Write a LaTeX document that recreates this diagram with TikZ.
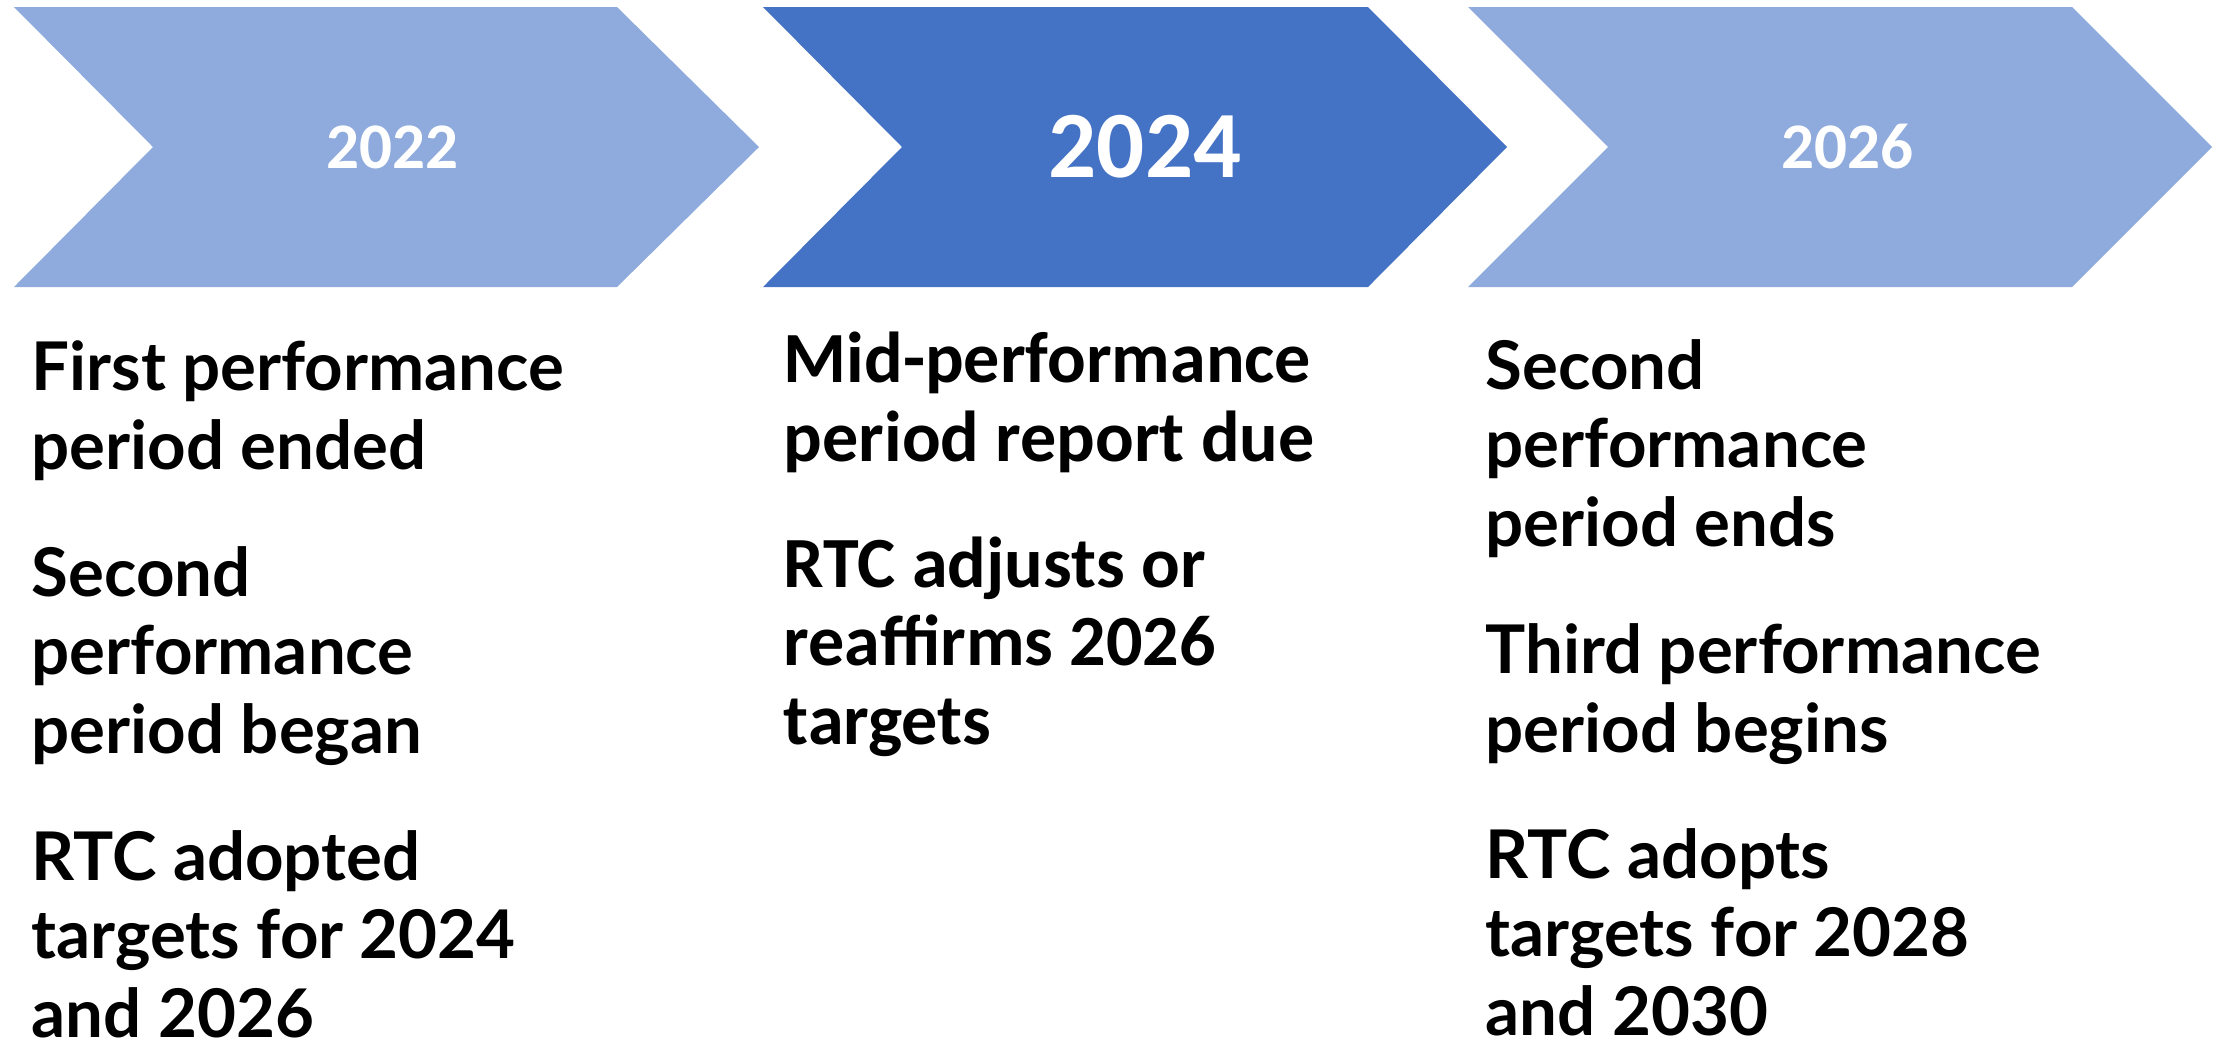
\documentclass[tikz,border=0pt]{standalone}
\usepackage{fontspec}
\setmainfont{Lato}
\newfontfamily\calfont{Carlito}
\usepackage{xcolor}
\definecolor{chevlight}{HTML}{8FAADC}
\definecolor{chevdark}{HTML}{4472C4}
\usetikzlibrary{positioning}

\begin{document}
\begin{tikzpicture}[x=0.01cm,y=-0.01cm,
  yearlbl/.style={text=white,font=\calfont\bfseries\fontsize{18.5pt}{20pt}\selectfont},
  item/.style={anchor=base west,align=left,inner sep=0pt,font=\bfseries\fontsize{19.1pt}{22.2pt}\selectfont},
  itemc/.style={item,font=\calfont\bfseries\fontsize{20.5pt}{22.2pt}\selectfont}]
\useasboundingbox (0,0) rectangle (2224,1050);
% chevrons
\fill[chevlight] (14,7)--(617,7)--(759,147)--(617,287)--(14,287)--(153,147)--cycle;
\fill[chevdark] (763,7)--(1368,7)--(1507,147)--(1368,287)--(763,287)--(902,147)--cycle;
\fill[chevlight] (1468,7)--(2072,7)--(2212,147)--(2072,287)--(1468,287)--(1608,147)--cycle;
\node[yearlbl] (y22) at (392,147) {2022};
\node[yearlbl,font=\calfont\bfseries\fontsize{27pt}{30pt}\selectfont] (y24) at (1145,147) {2024};
\node[yearlbl] (y26) at (1847,147) {2026};
% 2022 (anchored at last baseline)
\node[item] (a1) at (31,469) {First performance\\period ended};
\node[item] (a2) at (31,753) {Second\\performance\\period began};
\node[item] (a3) at (31,1037) {RTC adopted\\targets for 2024\\and 2026};
% 2024
\node[itemc] (b1) at (783,461) {Mid-performance\\period report due};
\node[itemc] (b2) at (783,744) {RTC adjusts or\\reaffirms 2026\\targets};
% 2026
\node[item] (c1) at (1485,546) {Second\\performance\\period ends};
\node[item] (c2) at (1485,752) {Third performance\\period begins};
\node[item] (c3) at (1485,1035) {RTC adopts\\targets for 2028\\and 2030};
\end{tikzpicture}
\end{document}
